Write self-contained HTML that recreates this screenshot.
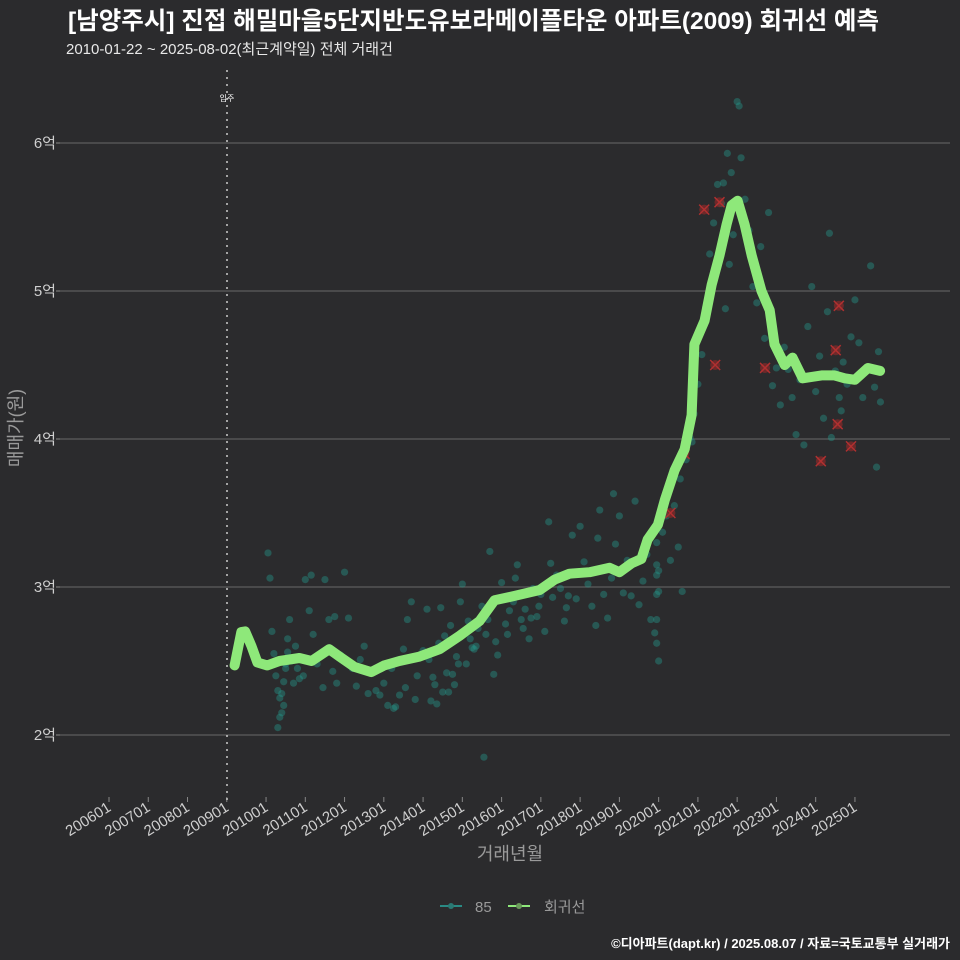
<!DOCTYPE html>
<html><head><meta charset="utf-8">
<style>
html,body{margin:0;padding:0;background:#2b2b2d;overflow:hidden;}
svg{display:block;font-family:"Liberation Sans","Noto Sans CJK KR",sans-serif;}
</style></head>
<body>
<svg id="chart" width="960" height="960" viewBox="0 0 960 960">
<rect width="960" height="960" fill="#2b2b2d"/>
<text x="68" y="29" fill="#ffffff" font-size="24.5" font-weight="bold">[남양주시] 진접 해밀마을5단지반도유보라메이플타운 아파트(2009) 회귀선 예측</text>
<text x="66" y="54" fill="#e8e8e8" font-size="15">2010-01-22 ~ 2025-08-02(최근계약일) 전체 거래건</text>
<g id="grid"></g>
<g id="xaxis"></g>
<g id="yaxis"></g>
<line x1="227" y1="70" x2="227" y2="800" stroke="#cccccc" stroke-width="1.5" stroke-dasharray="2,5"/>
<text x="227" y="101" fill="#ffffff" font-size="8" text-anchor="middle">입주</text>
<g id="dots"></g>
<g id="xs"></g>
<path id="reg" fill="none" stroke="#8ee87a" stroke-width="10" stroke-linejoin="round" stroke-linecap="round"/>
<text x="510" y="860" fill="#9a9a9a" font-size="18" text-anchor="middle">거래년월</text>
<text transform="translate(22,428) rotate(-90)" fill="#9a9a9a" font-size="18" text-anchor="middle">매매가(원)</text>
<g>
<g>
<line x1="440" y1="906" x2="462" y2="906" stroke="#2a8a84" stroke-width="2"/>
<circle cx="451" cy="906" r="3" fill="#2a7a74"/>
<text x="475" y="912" fill="#9a9a9a" font-size="15">85</text></g>
<g>
<line x1="508" y1="906" x2="530" y2="906" stroke="#8ee87a" stroke-width="2"/>
<circle cx="519" cy="906" r="3" fill="#6a9a5a"/>
<text x="544" y="912" fill="#9a9a9a" font-size="15">회귀선</text></g>
</g>
<text x="950" y="948" fill="#ffffff" font-size="13" font-weight="bold" text-anchor="end">©디아파트(dapt.kr) / 2025.08.07 / 자료=국토교통부 실거래가</text>
</svg>
<script>
const xTickLabels=["200601","200701","200801","200901","201001","201101","201201","201301","201401","201501","201601","201701","201801","201901","202001","202101","202201","202301","202401","202501"];
const xTickYears=[2006,2007,2008,2009,2010,2011,2012,2013,2014,2015,2016,2017,2018,2019,2020,2021,2022,2023,2024,2025];
const yTickValues=[20000,30000,40000,50000,60000];
const yTickLabels=["2억","3억","4억","5억","6억"];
const regYears=[2009.2,2009.37,2009.47,2009.63,2009.78,2010.03,2010.34,2010.85,2011.16,2011.61,2011.87,2012.25,2012.68,2013.01,2013.4,2013.91,2014.42,2014.93,2015.44,2015.82,2016.33,2016.97,2017.35,2017.73,2018.24,2018.75,2019.0,2019.31,2019.56,2019.72,2019.98,2020.16,2020.41,2020.66,2020.84,2020.91,2021.17,2021.35,2021.55,2021.73,2021.86,2022.01,2022.19,2022.37,2022.62,2022.83,2022.95,2023.21,2023.41,2023.67,2024.15,2024.48,2024.74,2025.0,2025.33,2025.64];
const regValues=[24700,26950,27000,26000,24900,24700,25000,25200,25000,25800,25300,24600,24250,24700,25000,25300,25800,26700,27700,29100,29400,29800,30500,30900,31000,31300,31000,31600,31900,33200,34200,35900,37900,39300,41600,46400,48000,50400,52400,54500,55800,56100,54500,52400,50000,48700,46400,45000,45500,44100,44300,44300,44100,44000,44800,44600];
const dotYears=[
2010.05,2010.1,2010.15,2010.2,2010.25,2010.3,2010.35,2010.4,2010.45,2010.5,2010.55,2010.6,2010.65,2010.7,2010.75,2010.8,2010.85,2010.9,2010.95,
2010.3,2010.35,2010.4,2010.45,2010.5,2010.55,
2011.0,2011.1,2011.2,2011.3,2011.4,2011.5,2011.6,2011.7,2011.8,2011.9,
2011.15,2011.45,2011.75,
2012.0,2012.1,2012.2,2012.3,2012.4,2012.5,2012.6,2012.7,2012.8,2012.9,
2013.0,2013.1,2013.2,2013.3,2013.4,2013.5,2013.6,2013.7,2013.8,2013.9,
2013.25,2013.55,2013.85,
2014.0,2014.1,2014.2,2014.3,2014.4,2014.5,2014.6,2014.7,2014.8,2014.9,
2014.15,2014.35,2014.55,2014.75,2014.95,
2014.25,2014.45,2014.65,2014.85,
2015.0,2015.1,2015.2,2015.3,2015.4,2015.5,2015.6,2015.7,2015.8,2015.9,
2015.15,2015.35,2015.55,2015.75,
2015.25,2015.65,2015.85,
2016.0,2016.1,2016.2,2016.3,2016.4,2016.5,2016.6,2016.7,2016.8,2016.9,
2016.15,2016.35,2016.55,2016.75,2016.95,
2017.0,2017.1,2017.2,2017.3,2017.4,2017.5,2017.6,2017.7,2017.8,2017.9,
2017.25,2017.65,
2018.0,2018.1,2018.2,2018.3,2018.4,2018.5,2018.6,2018.7,2018.8,2018.9,
2018.45,2018.85,
2019.0,2019.1,2019.2,2019.3,2019.4,2019.5,2019.6,2019.7,2019.8,2019.9,
2019.95,2019.95,2019.95,2019.95,2019.95,2019.95,
2020.0,2020.0,2020.0,
2020.1,2020.2,2020.3,2020.4,2020.5,2020.6,2020.7,2020.8,2020.9,
2020.25,2020.55,2020.85,
2021.0,2021.1,2021.2,2021.3,2021.4,2021.5,2021.6,2021.7,2021.8,2021.9,
2021.65,2021.75,2021.85,
2022.0,2022.1,2022.2,2022.3,2022.4,2022.5,2022.6,2022.7,2022.8,2022.9,
2022.05,
2023.0,2023.1,2023.2,2023.3,2023.4,2023.5,2023.6,2023.7,2023.8,2023.9,
2024.0,2024.1,2024.2,2024.3,2024.4,2024.5,2024.6,2024.7,2024.8,2024.9,
2024.35,2024.65,
2025.0,2025.1,2025.2,2025.3,2025.4,2025.5,2025.6,
2025.55,2025.65];
const dotValues=[
32300,30600,27000,25500,24000,23000,22500,21500,22000,24500,26500,27800,25000,23500,26000,24500,23800,25200,24000,
20500,21200,22800,23600,24800,25600,
30500,28400,26800,24800,25500,30500,27800,24300,23500,25400,
30800,23200,28000,
31000,27900,24500,23300,25100,26000,22800,24200,23000,22700,
23500,22000,24500,21900,22700,25800,27800,29000,22400,25400,
21800,23200,24000,
25700,28500,22300,23400,26200,22900,24200,27400,23400,24800,
25100,22100,26700,24100,29000,
23900,28600,22900,25300,
30200,24800,26500,25800,27200,28700,26800,32400,24100,25400,
27700,26000,18500,29000,
25900,27800,26300,
30300,27500,28400,29000,31500,27800,28500,26500,29900,28000,
26800,30600,27200,27900,28700,
29500,27000,34400,29300,30800,29900,27700,29400,33500,29200,
31600,28600,
34100,31700,30200,28700,27400,35200,29500,27900,30600,32900,
33300,36300,
34800,29600,31800,29400,35800,28800,30400,32200,27800,26900,
33000,29500,31500,27800,30800,26200,
31100,25000,29700,
33700,34800,31800,35500,32700,29700,38600,40100,41700,
36800,37300,39800,
43700,45700,48900,52500,54600,57200,55900,48800,51800,53800,
57300,59300,58000,
62800,59000,56200,54100,50300,49200,53000,46800,55300,43600,
62500,
44800,42300,46200,44700,42800,40300,44000,39600,47600,50300,
43200,45600,41400,48600,40100,44600,42800,45200,43700,46900,
53900,41900,
49400,46500,42800,44700,51700,43500,45900,
38100,42500];
const markYears=[2020.66,2020.3,2021.16,2021.55,2021.44,2022.71,2024.13,2024.51,2024.59,2024.56,2024.9];
const markValues=[39000,35000,55500,56000,45000,44800,38500,46000,49000,41000,39500];

const NS="http://www.w3.org/2000/svg";
const X0=109, PXY=39.26, PLOTL=60, PLOTR=950;
function xs(y){return X0+(y-2006)*PXY;}
function ys(v){return 143+(60000-v)/10000*148;}
function mk(tag,attrs,parent){const e=document.createElementNS(NS,tag);for(const k in attrs)e.setAttribute(k,attrs[k]);parent.appendChild(e);return e;}
const grid=document.getElementById('grid'),xa=document.getElementById('xaxis'),ya=document.getElementById('yaxis');
yTickValues.forEach((v,i)=>{
  const l=mk('line',{x1:PLOTL,x2:PLOTR,y1:ys(v),y2:ys(v),stroke:'#5e5e5e','stroke-width':1.2},grid);
  
  
  const t=mk('text',{x:56,y:ys(v)+5,fill:'#cfcfcf','font-size':15,'text-anchor':'end'},ya);
  t.textContent=yTickLabels[i];
  
  
  mk('line',{x1:56,x2:60,y1:ys(v),y2:ys(v),stroke:'#888'},ya);
});
xTickYears.forEach((yr,i)=>{
  const x=xs(yr);
  mk('line',{x1:x,x2:x,y1:797,y2:802,stroke:'#888'},xa);
  const t=mk('text',{x:x+3,y:810,fill:'#cfcfcf','font-size':15,'text-anchor':'end',transform:`rotate(-32 ${x+3} 810)`},xa);
  t.textContent=xTickLabels[i];
  
  
});
const dots=document.getElementById('dots');
const n=Math.min(dotYears.length,dotValues.length);
for(let i=0;i<n;i++){
  const c=mk('circle',{cx:xs(dotYears[i]),cy:ys(dotValues[i]),r:3.6,fill:'#24968a','fill-opacity':0.42},dots);
  
  
}
const xsG=document.getElementById('xs');
markYears.forEach((yr,i)=>{
  const x=xs(yr),y=ys(markValues[i]);
  const g=mk('g',{},xsG);
  
  
  mk('circle',{cx:x,cy:y,r:5,fill:'#8a2a2a','fill-opacity':0.7},g);
  mk('path',{d:`M${x-5},${y-5}L${x+5},${y+5}M${x-5},${y+5}L${x+5},${y-5}`,stroke:'#b03030','stroke-width':1.5},g);
});
document.getElementById('reg').setAttribute('d',regYears.map((yr,i)=>(i?'L':'M')+xs(yr).toFixed(1)+','+ys(regValues[i]).toFixed(1)).join(''));
</script>
</body></html>
